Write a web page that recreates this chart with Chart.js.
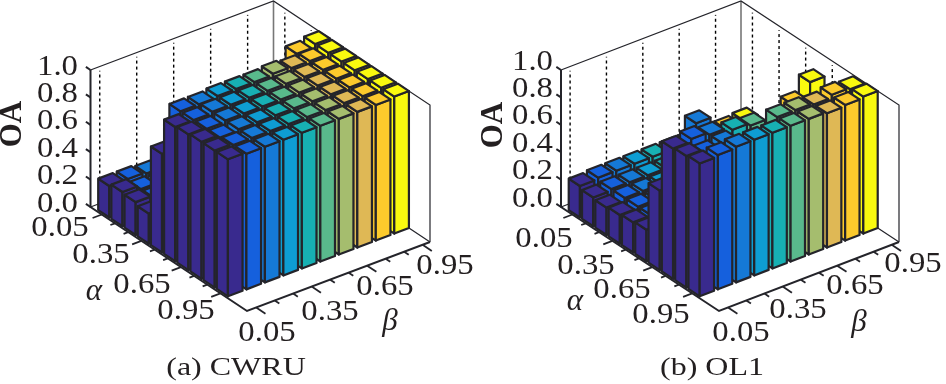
<!DOCTYPE html>
<html>
<head>
<meta charset="utf-8">
<style>
  html, body { margin: 0; padding: 0; background: #fff; }
  canvas { display: block; }
</style>
<script src="https://cdn.jsdelivr.net/npm/chart.js"></script>
</head>
<body>
<canvas id="bars" width="946" height="384"></canvas>
<script>
// values
var alphaValues = [0.05, 0.15, 0.25, 0.35, 0.45, 0.55, 0.65, 0.75, 0.85, 0.95];
var betaValues = [0.05, 0.15, 0.25, 0.35, 0.45, 0.55, 0.65, 0.75, 0.85, 0.95];
var alphaLabels = ["0.05", "0.35", "0.65", "0.95"];
var betaLabels = ["0.05", "0.35", "0.65", "0.95"];
var oaTicks = [0, 0.2, 0.4, 0.6, 0.8, 1.0];
var columnColors = ["#392a8e", "#1560dd", "#1579d6", "#0e9dd3", "#17b0b3",
                    "#59b98c", "#a5bd6e", "#dfb855", "#fcca2c", "#f9f90f"];

// rows are alpha, columns are beta
var cwruOA = [
  [0.23, 0.23, 0.22, 0.22, 0.22, 0.22, 0.22, 0.22, 0.22, 0.22],
  [0.25, 0.22, 0.22, 0.22, 0.22, 0.22, 0.22, 0.22, 0.22, 0.22],
  [0.24, 0.22, 0.22, 0.22, 0.22, 0.22, 0.22, 0.22, 0.22, 0.22],
  [0.22, 0.22, 0.22, 0.22, 0.22, 0.22, 0.22, 0.22, 0.98, 1.00],
  [0.72, 0.98, 0.98, 0.99, 0.99, 0.99, 1.00, 0.99, 0.99, 1.00],
  [0.98, 0.98, 0.99, 0.99, 0.99, 0.99, 0.99, 0.99, 0.99, 1.00],
  [0.99, 0.98, 0.99, 0.99, 0.99, 0.99, 0.99, 0.99, 0.99, 1.00],
  [1.00, 0.98, 0.99, 0.99, 0.99, 0.99, 0.99, 0.99, 0.99, 1.00],
  [1.00, 0.99, 0.99, 0.99, 0.99, 0.99, 0.99, 0.99, 0.99, 1.00],
  [1.00, 0.99, 0.99, 0.99, 0.99, 0.99, 0.99, 0.99, 0.99, 1.00]
];
var ol1OA = [
  [0.23, 0.24, 0.24, 0.24, 0.24, 0.24, 0.24, 0.24, 0.24, 0.25],
  [0.21, 0.22, 0.22, 0.22, 0.22, 0.22, 0.22, 0.22, 0.22, 0.22],
  [0.20, 0.22, 0.22, 0.22, 0.22, 0.22, 0.22, 0.22, 0.22, 0.22],
  [0.21, 0.22, 0.22, 0.22, 0.22, 0.22, 0.22, 0.22, 0.22, 0.22],
  [0.22, 0.22, 0.22, 0.22, 0.22, 0.22, 0.22, 0.22, 0.22, 0.22],
  [0.23, 0.22, 0.22, 0.22, 0.22, 0.22, 0.22, 0.22, 0.74, 0.85],
  [0.58, 0.60, 0.97, 0.70, 0.82, 0.80, 0.50, 0.50, 0.50, 0.50],
  [0.95, 0.97, 0.95, 0.75, 0.70, 0.60, 0.50, 0.50, 0.50, 0.50],
  [0.96, 0.93, 0.95, 0.85, 0.75, 0.99, 0.99, 0.98, 1.00, 0.99],
  [0.97, 0.98, 0.99, 0.99, 0.99, 0.99, 0.99, 0.98, 0.99, 1.00]
];

var aLo = -0.036, aHi = 1.1516, bLo = 0, bHi = 0.99;
var aHalf = 0.0422, bHalf = 0.0396;
var edge = "#24242a";

var panels = [
  {
    values: cwruOA,
    left: [90.5, 207], toFront: [156.5, 104], toRight: [183, -69], tall: 137,
    title: "(a) CWRU", titlePos: [236, 368],
    oaRight: 78, oaShift: -3,
    oaTitle: [13, 124],
    alphaPos: [[60, 228], [101, 255], [142, 285], [186, 311]],
    betaPos: [[267, 333], [330, 312], [385, 287], [445, 266]],
    alphaName: [94, 292], betaName: [390, 322]
  },
  {
    values: ol1OA,
    left: [561, 207], toFront: [158, 104], toRight: [180, -69], tall: 137,
    title: "(b) OL1", titlePos: [712, 368],
    oaRight: 553, oaShift: -8,
    oaTitle: [494, 125],
    alphaPos: [[544, 239], [586, 266], [622, 290], [661, 315]],
    betaPos: [[741, 333], [798, 310], [855, 286], [913, 264]],
    alphaName: [575, 302], betaName: [859, 323]
  }
];

function project(p, a, b, z) {
  var u = (a - aLo) / (aHi - aLo);
  var v = (b - bLo) / (bHi - bLo);
  return {
    x: p.left[0] + u * p.toFront[0] + v * p.toRight[0],
    y: p.left[1] + u * p.toFront[1] + v * p.toRight[1] - z * p.tall
  };
}

function lineSet(points, color, width, dash) {
  return {
    data: points, borderColor: color, borderWidth: width, borderDash: dash || [],
    fill: false, pointRadius: 0, tension: 0, clip: false
  };
}

function faceSet(points, color) {
  return {
    data: points.concat([points[0]]), borderColor: edge, borderWidth: 2.2,
    backgroundColor: color, fill: "shape", pointRadius: 0, tension: 0,
    borderJoinStyle: "round", clip: false
  };
}

function buildPanel(p) {
  var sets = [];
  var P = function (a, b, z) { return project(p, a, b, z); };

  // back walls
  sets.push(lineSet([P(aLo, bLo, 0), P(aLo, bHi, 0), P(aHi, bHi, 0)], edge, 1.2));
  betaValues.forEach(function (b, j) {
    if (j % 2 == 0) sets.push(lineSet([P(aLo, b, 0), P(aLo, b, 0.97)], "#000", 1.4, [3, 3]));
  });
  alphaValues.forEach(function (a, i) {
    if (i % 2 == 0) sets.push(lineSet([P(a, bHi, 0), P(a, bHi, 0.97)], "#000", 1.4, [3, 3]));
  });
  sets.push(lineSet([P(aLo, bHi, 0), P(aLo, bHi, 1)], "#777", 1.6));
  sets.push(lineSet([P(aLo, bLo, 1), P(aLo, bHi, 1), P(aHi, bHi, 1), P(aHi, bHi, 0)], edge, 1.2));

  // bars, far ones first
  alphaValues.forEach(function (a, i) {
    for (var j = betaValues.length - 1; j >= 0; j--) {
      var b = betaValues[j], z = p.values[i][j], c = columnColors[j];
      var a0 = a - aHalf, a1 = a + aHalf, b0 = b - bHalf, b1 = b + bHalf;
      sets.push(faceSet([P(a0, b0, 0), P(a1, b0, 0), P(a1, b0, z), P(a0, b0, z)], c));
      sets.push(faceSet([P(a1, b0, 0), P(a1, b1, 0), P(a1, b1, z), P(a1, b0, z)], c));
      sets.push(faceSet([P(a0, b0, z), P(a1, b0, z), P(a1, b1, z), P(a0, b1, z)], c));
    }
  });

  // front axes and ticks
  sets.push(lineSet([P(aLo, bLo, 1), P(aLo, bLo, 0), P(aHi, bLo, 0), P(aHi, bHi, 0)], edge, 2));
  oaTicks.forEach(function (t) {
    sets.push(lineSet([P(aLo, bLo, t), P(aLo - 0.035, bLo, t)], edge, 2));
  });
  alphaValues.forEach(function (a, i) {
    sets.push(lineSet([P(a, bLo, 0), P(a, bLo - (i % 3 == 0 ? 0.05 : 0.025), 0)], edge, 1.8));
  });
  betaValues.forEach(function (b, j) {
    sets.push(lineSet([P(aHi, b, 0), P(aHi + (j % 3 == 0 ? 0.07 : 0.035), b, 0)], edge, 1.8));
  });
  return sets;
}

var datasets = [];
panels.forEach(function (p) { datasets = datasets.concat(buildPanel(p)); });
datasets.reverse(); // chart.js paints the last dataset first

function put(ctx, text, x, y, font, stretch, align) {
  ctx.save();
  ctx.translate(x, y);
  ctx.scale(stretch, 1);
  ctx.font = font;
  ctx.fillStyle = "#231f20";
  ctx.textAlign = align || "center";
  ctx.textBaseline = "middle";
  ctx.fillText(text, 0, 0);
  ctx.restore();
}

var textPlugin = {
  id: "panelText",
  afterDraw: function (chart) {
    var ctx = chart.ctx, sx = chart.scales.x, sy = chart.scales.y;
    var tickFont = "29px 'Liberation Serif'";
    panels.forEach(function (p) {
      oaTicks.forEach(function (t) {
        var pt = project(p, aLo, bLo, t);
        put(ctx, t.toFixed(1), sx.getPixelForValue(p.oaRight), sy.getPixelForValue(pt.y + p.oaShift), tickFont, 1.13, "right");
      });
      alphaLabels.forEach(function (s, k) {
        put(ctx, s, sx.getPixelForValue(p.alphaPos[k][0]), sy.getPixelForValue(p.alphaPos[k][1]), tickFont, 1.13);
      });
      betaLabels.forEach(function (s, k) {
        put(ctx, s, sx.getPixelForValue(p.betaPos[k][0]), sy.getPixelForValue(p.betaPos[k][1]), tickFont, 1.13);
      });
      put(ctx, "\u03b1", p.alphaName[0], p.alphaName[1], "italic 31px 'Liberation Serif'", 1);
      put(ctx, "\u03b2", p.betaName[0], p.betaName[1], "italic 31px 'Liberation Serif'", 1);
      put(ctx, p.title, p.titlePos[0], p.titlePos[1], "25px 'Liberation Serif'", 1.28);
      ctx.save();
      ctx.translate(p.oaTitle[0], p.oaTitle[1]);
      ctx.rotate(-Math.PI / 2);
      put(ctx, "OA", 0, 0, "bold 31px 'Liberation Serif'", 1);
      ctx.restore();
    });
  }
};

new Chart(document.getElementById("bars"), {
  type: "line",
  data: { datasets: datasets },
  plugins: [textPlugin],
  options: {
    responsive: false,
    animation: false,
    events: [],
    layout: { padding: 0 },
    plugins: { legend: { display: false }, tooltip: { enabled: false } },
    scales: {
      x: { type: "linear", min: 0, max: 946, display: false },
      y: { type: "linear", min: 0, max: 384, reverse: true, display: false }
    }
  }
});
</script>
</body>
</html>
